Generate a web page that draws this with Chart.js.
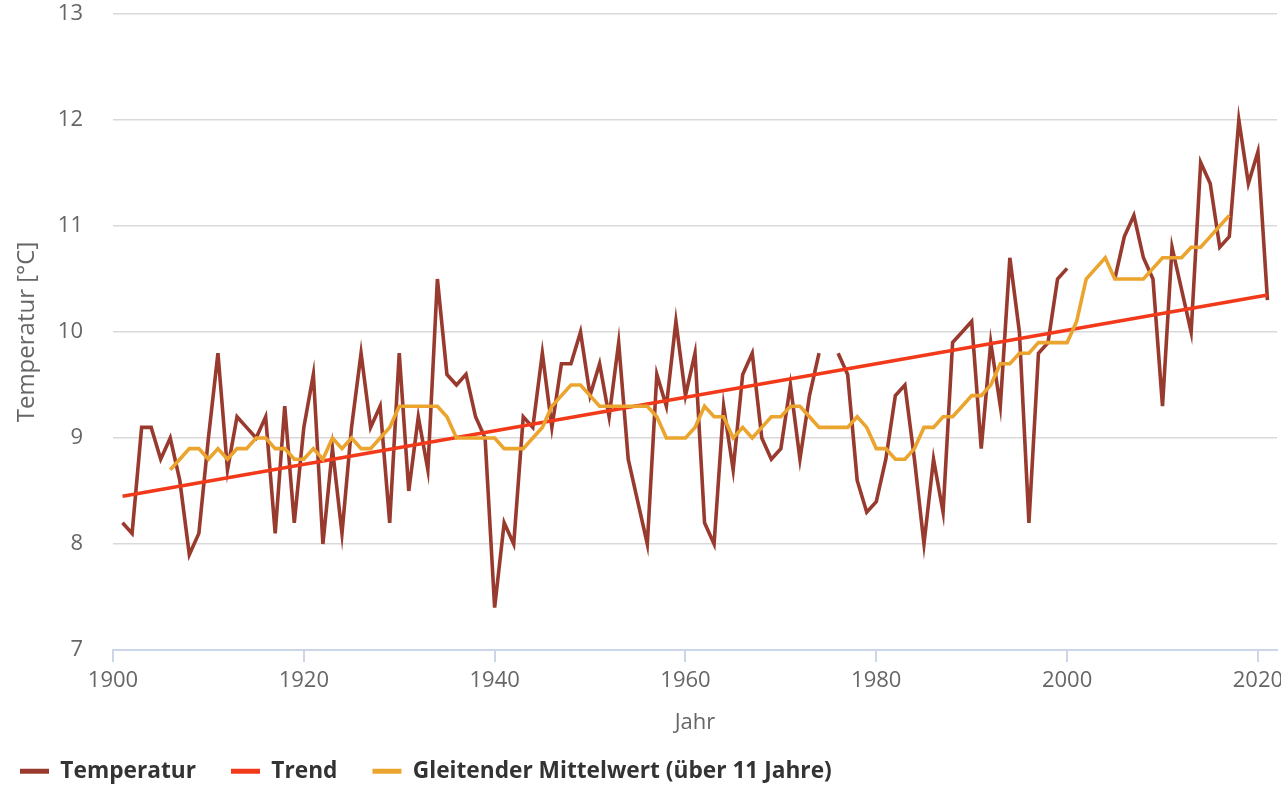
<!DOCTYPE html>
<html>
<head>
<meta charset="utf-8">
<script src="https://cdn.jsdelivr.net/npm/chart.js@4"></script>
<style>
html,body{margin:0;padding:0;background:#fff;}
#wrap{width:1281px;height:786px;}
</style>
</head>
<body>
<div id="wrap"><canvas id="c" width="1281" height="786"></canvas></div>
<script>
// ---- Data ----
const tempYears = [
  1901,1902,1903,1904,1905,1906,1907,1908,1909,1910,
  1911,1912,1913,1914,1915,1916,1917,1918,1919,1920,
  1921,1922,1923,1924,1925,1926,1927,1928,1929,1930,
  1931,1932,1933,1934,1935,1936,1937,1938,1939,1940,
  1941,1942,1943,1944,1945,1946,1947,1948,1949,1950,
  1951,1952,1953,1954,1955,1956,1957,1958,1959,1960,
  1961,1962,1963,1964,1965,1966,1967,1968,1969,1970,
  1971,1972,1973,1974,1975,1976,1977,1978,1979,1980,
  1981,1982,1983,1984,1985,1986,1987,1988,1989,1990,
  1991,1992,1993,1994,1995,1996,1997,1998,1999,2000,
  2001,2002,2003,2004,2005,2006,2007,2008,2009,2010,
  2011,2012,2013,2014,2015,2016,2017,2018,2019,2020,
  2021
];
const tempValues = [
  8.2, 8.1, 9.1, 9.1, 8.8, 9.0, 8.6, 7.9, 8.1, 9.0,
  9.8, 8.7, 9.2, 9.1, 9.0, 9.2, 8.1, 9.3, 8.2, 9.1,
  9.6, 8.0, 8.9, 8.1, 9.1, 9.8, 9.1, 9.3, 8.2, 9.8,
  8.5, 9.2, 8.7, 10.5, 9.6, 9.5, 9.6, 9.2, 9.0, 7.4,
  8.2, 8.0, 9.2, 9.1, 9.8, 9.1, 9.7, 9.7, 10.0, 9.4,
  9.7, 9.2, 9.9, 8.8, 8.4, 8.0, 9.6, 9.3, 10.1, 9.4,
  9.8, 8.2, 8.0, 9.3, 8.7, 9.6, 9.8, 9.0, 8.8, 8.9,
  9.5, 8.8, 9.4, 9.8, null, 9.8, 9.6, 8.6, 8.3, 8.4,
  8.8, 9.4, 9.5, 8.8, 8.0, 8.8, 8.3, 9.9, 10.0, 10.1,
  8.9, 9.9, 9.3, 10.7, 10.0, 8.2, 9.8, 9.9, 10.5, 10.6,
  null, null, null, null, 10.5, 10.9, 11.1, 10.7, 10.5, 9.3,
  10.8, 10.4, 10.0, 11.6, 11.4, 10.8, 10.9, 12.0, 11.4, 11.7,
  10.3
];
const avgYears = [
  1906,1907,1908,1909,1910,1911,1912,1913,1914,1915,
  1916,1917,1918,1919,1920,1921,1922,1923,1924,1925,
  1926,1927,1928,1929,1930,1931,1932,1933,1934,1935,
  1936,1937,1938,1939,1940,1941,1942,1943,1944,1945,
  1946,1947,1948,1949,1950,1951,1952,1953,1954,1955,
  1956,1957,1958,1959,1960,1961,1962,1963,1964,1965,
  1966,1967,1968,1969,1970,1971,1972,1973,1974,1975,
  1976,1977,1978,1979,1980,1981,1982,1983,1984,1985,
  1986,1987,1988,1989,1990,1991,1992,1993,1994,1995,
  1996,1997,1998,1999,2000,2001,2002,2003,2004,2005,
  2006,2007,2008,2009,2010,2011,2012,2013,2014,2015,
  2016,2017
];
const avgValues = [
  8.7, 8.8, 8.9, 8.9, 8.8, 8.9, 8.8, 8.9, 8.9, 9.0,
  9.0, 8.9, 8.9, 8.8, 8.8, 8.9, 8.8, 9.0, 8.9, 9.0,
  8.9, 8.9, 9.0, 9.1, 9.3, 9.3, 9.3, 9.3, 9.3, 9.2,
  9.0, 9.0, 9.0, 9.0, 9.0, 8.9, 8.9, 8.9, 9.0, 9.1,
  9.3, 9.4, 9.5, 9.5, 9.4, 9.3, 9.3, 9.3, 9.3, 9.3,
  9.3, 9.2, 9.0, 9.0, 9.0, 9.1, 9.3, 9.2, 9.2, 9.0,
  9.1, 9.0, 9.1, 9.2, 9.2, 9.3, 9.3, 9.2, 9.1, 9.1,
  9.1, 9.1, 9.2, 9.1, 8.9, 8.9, 8.8, 8.8, 8.9, 9.1,
  9.1, 9.2, 9.2, 9.3, 9.4, 9.4, 9.5, 9.7, 9.7, 9.8,
  9.8, 9.9, 9.9, 9.9, 9.9, 10.1, 10.5, 10.6, 10.7, 10.5,
  10.5, 10.5, 10.5, 10.6, 10.7, 10.7, 10.7, 10.8, 10.8, 10.9,
  11.0, 11.1
];
const trendYears = [1901, 2021];
const trendValues = [8.45, 10.35];

const xTickYears = [1900, 1920, 1940, 1960, 1980, 2000, 2020];
const yTickValues = [7, 8, 9, 10, 11, 12, 13];
const seriesNames = ['Temperatur', 'Trend', 'Gleitender Mittelwert (über 11 Jahre)'];
const xTitle = 'Jahr';
const yTitle = 'Temperatur [°C]';

// ---- Build datasets ----
function pairs(xs, ys) { return xs.map((x, i) => ({ x: x, y: ys[i] })); }

const COL_TEMP = '#993a2f';
const COL_TREND = '#f23a1a';
const COL_AVG = '#eba42e';
const FONT = "'Open Sans', 'DejaVu Sans', sans-serif";

function zeroPad(s) { s.paddingLeft = 0; s.paddingRight = 0; s.paddingTop = 0; s.paddingBottom = 0; }

const ctx = document.getElementById('c').getContext('2d');
new Chart(ctx, {
  type: 'line',
  data: {
    datasets: [
      { label: seriesNames[0], data: pairs(tempYears, tempValues), borderColor: COL_TEMP, backgroundColor: COL_TEMP,
        borderWidth: 3.6, pointRadius: 0, tension: 0, spanGaps: false, order: 3 },
      { label: seriesNames[1], data: pairs(trendYears, trendValues), borderColor: COL_TREND, backgroundColor: COL_TREND,
        borderWidth: 3.6, pointRadius: 0, tension: 0, order: 2 },
      { label: seriesNames[2], data: pairs(avgYears, avgValues), borderColor: COL_AVG, backgroundColor: COL_AVG,
        borderWidth: 3.6, pointRadius: 0, tension: 0, order: 1 }
    ]
  },
  options: {
    responsive: false,
    animation: false,
    devicePixelRatio: 1,
    layout: { padding: { left: -15, right: 4, top: 14, bottom: -6.5 } },
    plugins: {
      tooltip: { enabled: false },
      legend: {
        display: true,
        position: 'bottom',
        align: 'start',
        labels: {
          boxWidth: 29,
          boxHeight: 5,
          padding: 35,
          color: '#333333',
          font: { family: FONT, size: 22.7, weight: 'bold' },
          sort: (a, b) => a.datasetIndex - b.datasetIndex,
          generateLabels: (chart) => Chart.defaults.plugins.legend.labels.generateLabels(chart)
            .map(l => Object.assign({}, l, { lineWidth: 0 }))
        }
      }
    },
    scales: {
      x: {
        type: 'linear',
        min: 1900,
        max: 2022,
        afterBuildTicks: (s) => { s.ticks = xTickYears.map(v => ({ value: v })); },
        afterFit: (s) => { s.height = 74.8; zeroPad(s); },
        ticks: {
          autoSkip: false, maxRotation: 0, minRotation: 0,
          color: '#666666',
          padding: 6,
          font: { family: FONT, size: 22 },
          callback: (v) => String(v)
        },
        grid: { drawOnChartArea: false, drawTicks: true, tickLength: 12, color: '#ccd6eb', lineWidth: 2 },
        border: { display: true, color: '#ccd6eb', width: 2 },
        title: { display: true, text: xTitle, color: '#666666', font: { family: FONT, size: 22 }, padding: { top: 0, bottom: -11 } }
      },
      y: {
        type: 'linear',
        min: 7,
        max: 13,
        afterBuildTicks: (s) => { s.ticks = yTickValues.map(v => ({ value: v })); },
        afterFit: (s) => { s.width = 128; zeroPad(s); },
        ticks: { color: '#666666', padding: 30, font: { family: FONT, size: 22 }, callback: (v) => String(v) },
        grid: { color: '#d9d9d9', lineWidth: 1.5, drawTicks: false },
        border: { display: false },
        title: { display: true, text: yTitle, color: '#666666', font: { family: FONT, size: 24 }, padding: { top: 28, bottom: 0 } }
      }
    }
  }
});
</script>
</body>
</html>
